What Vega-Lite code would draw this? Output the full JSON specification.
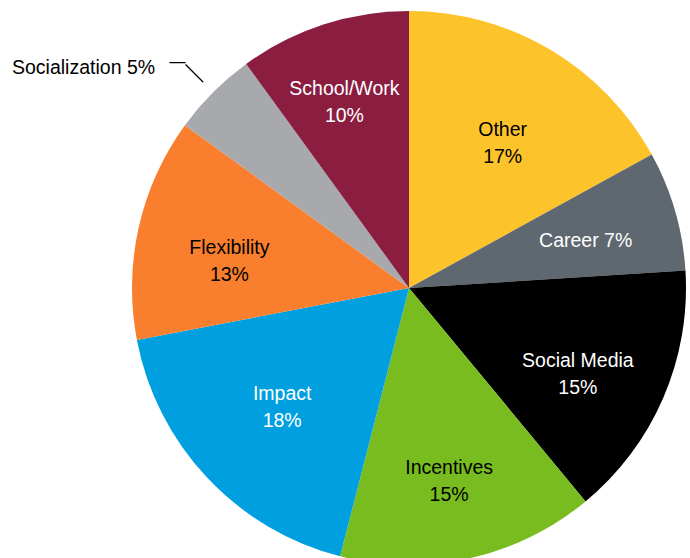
{
  "$schema": "https://vega.github.io/schema/vega-lite/v6.json",
  "width": 562,
  "height": 540,
  "autosize": {"type": "none"},
  "padding": {"left": 128, "top": 18, "right": 0, "bottom": 0},
  "background": "white",
  "config": {"view": {"stroke": null}, "text": {"font": "Liberation Sans"}},
  "data": {
    "values": [
      {"category": "Other", "value": 17, "rank": 1, "label": "Other\n17%"},
      {"category": "Career", "value": 7, "rank": 2, "label": "Career 7%"},
      {"category": "Social Media", "value": 15, "rank": 3, "label": "Social Media\n15%"},
      {"category": "Incentives", "value": 15, "rank": 4, "label": "Incentives\n15%"},
      {"category": "Impact", "value": 18, "rank": 5, "label": "Impact\n18%"},
      {"category": "Flexibility", "value": 13, "rank": 6, "label": "Flexibility\n13%"},
      {"category": "Socialization", "value": 5, "rank": 7, "label": "Socialization 5%"},
      {"category": "School/Work", "value": 10, "rank": 8, "label": "School/Work\n10%"}
    ]
  },
  "transform": [
    {"stack": "value", "groupby": [], "sort": [{"field": "rank", "order": "ascending"}], "as": ["v0", "v1"]},
    {"calculate": "(datum.v0 + datum.v1) / 2", "as": "mid"}
  ],
  "layer": [
    {
      "mark": {"type": "arc", "outerRadius": 277},
      "encoding": {
        "theta": {"field": "v0", "type": "quantitative", "scale": {"domain": [0, 100]}},
        "theta2": {"field": "v1"},
        "color": {
          "field": "category",
          "type": "nominal",
          "scale": {
            "domain": ["Other", "Career", "Social Media", "Incentives", "Impact", "Flexibility", "Socialization", "School/Work"],
            "range": ["#FDC32B", "#5F6870", "#000000", "#78BC20", "#009FDF", "#F97F2E", "#A7A9AC", "#8B1D41"]
          },
          "legend": null
        }
      }
    },
    {
      "transform": [{"filter": "datum.category == 'Other' || datum.category == 'Social Media' || datum.category == 'Incentives' || datum.category == 'Flexibility'"}],
      "mark": {"type": "text", "radius": 184, "fontSize": 19.5, "lineBreak": "\n", "lineHeight": 27, "align": "center", "baseline": "middle"},
      "encoding": {
        "theta": {"field": "mid", "type": "quantitative", "scale": {"domain": [0, 100]}},
        "text": {"field": "label"},
        "color": {
          "field": "category",
          "type": "nominal",
          "scale": {
            "domain": ["Other", "Career", "Social Media", "Incentives", "Impact", "Flexibility", "Socialization", "School/Work"],
            "range": ["#000000", "#FFFFFF", "#FFFFFF", "#000000", "#FFFFFF", "#000000", "#000000", "#FFFFFF"]
          },
          "legend": null
        }
      }
    },
    {
      "transform": [{"filter": "datum.category == 'Career'"}],
      "mark": {"type": "text", "radius": 184, "dy": 4, "fontSize": 19.5, "align": "center", "baseline": "middle", "color": "#FFFFFF"},
      "encoding": {
        "theta": {"field": "mid", "type": "quantitative", "scale": {"domain": [0, 100]}},
        "text": {"field": "label"}
      }
    },
    {
      "transform": [{"filter": "datum.category == 'Impact'"}],
      "mark": {"type": "text", "radius": 174, "dy": -13.5, "fontSize": 19.5, "lineBreak": "\n", "lineHeight": 27, "align": "center", "baseline": "middle", "color": "#FFFFFF"},
      "encoding": {
        "theta": {"field": "mid", "type": "quantitative", "scale": {"domain": [0, 100]}},
        "text": {"field": "label"}
      }
    },
    {
      "transform": [{"filter": "datum.category == 'School/Work'"}],
      "mark": {"type": "text", "radius": 209, "fontSize": 19.5, "lineBreak": "\n", "lineHeight": 27, "align": "center", "baseline": "middle", "color": "#FFFFFF"},
      "encoding": {
        "theta": {"field": "mid", "type": "quantitative", "scale": {"domain": [0, 100]}},
        "text": {"field": "label"}
      }
    },
    {
      "transform": [{"filter": "datum.category == 'Socialization'"}],
      "mark": {"type": "text", "radius": 311, "dx": -34, "fontSize": 19.5, "align": "right", "baseline": "middle", "color": "#000000"},
      "encoding": {
        "theta": {"field": "mid", "type": "quantitative", "scale": {"domain": [0, 100]}},
        "text": {"field": "label"}
      }
    },
    {
      "transform": [{"filter": "datum.category == 'Socialization'"}],
      "mark": {"type": "arc", "innerRadius": 291, "outerRadius": 316, "fill": "transparent", "stroke": "#000000", "strokeWidth": 1.3},
      "encoding": {
        "theta": {"field": "mid", "type": "quantitative", "scale": {"domain": [0, 100]}},
        "theta2": {"field": "mid"}
      }
    },
    {
      "transform": [{"filter": "datum.category == 'Socialization'"}],
      "mark": {"type": "text", "radius": 316, "dy": 2, "fontSize": 16, "align": "right", "baseline": "alphabetic", "color": "#000000"},
      "encoding": {
        "theta": {"field": "mid", "type": "quantitative", "scale": {"domain": [0, 100]}},
        "text": {"value": "—"}
      }
    }
  ],
  "resolve": {"scale": {"color": "independent"}}
}
